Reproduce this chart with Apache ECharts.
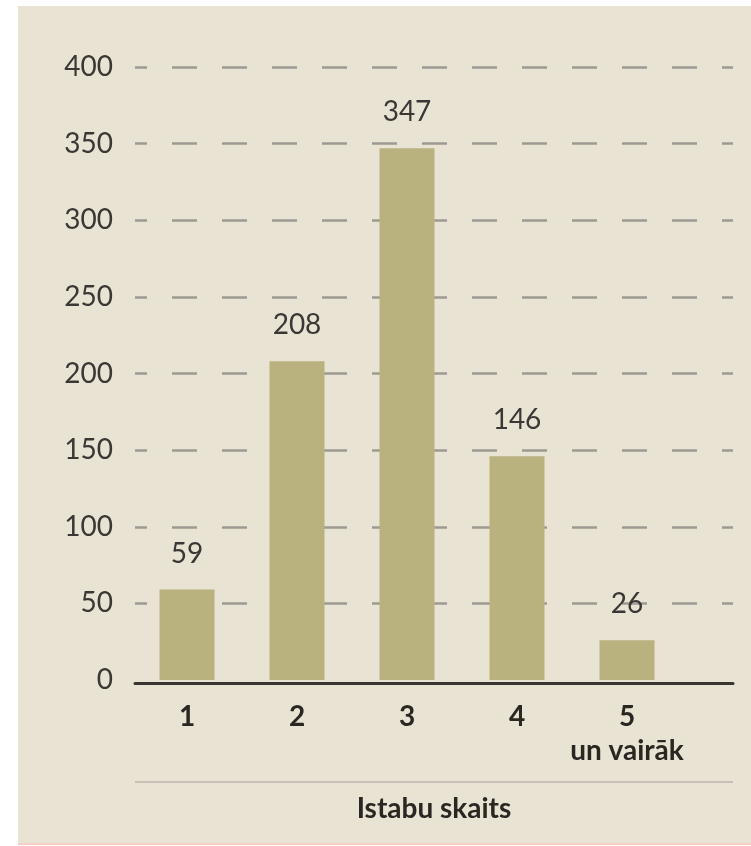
<!DOCTYPE html>
<html>
<head>
<meta charset="utf-8">
<script src="https://cdn.jsdelivr.net/npm/echarts@6/dist/echarts.min.js"></script>
<style>
html,body{margin:0;padding:0;background:#ffffff;}
#bg{position:absolute;left:18px;top:6px;width:733px;height:837px;background:#e9e3d3;border-bottom:2px solid #f3cfc4;}
#chart{position:absolute;left:0;top:0;width:751px;height:846px;}
</style>
</head>
<body>
<div id="bg"></div>
<div id="chart"></div>
<script>
const categories = ['1', '2', '3', '4', '5\nun vairāk'];
const values = [59, 208, 347, 146, 26];
const yTicks = [0, 50, 100, 150, 200, 250, 300, 350, 400];
const xTitle = 'Istabu skaits';

const FONT = 'Lato';
const chart = echarts.init(document.getElementById('chart'), null, {renderer: 'canvas'});
chart.setOption({
  animation: false,
  backgroundColor: 'transparent',
  grid: [
    {left: 135, right: 18, top: 67, bottom: 166},
    {left: 132, right: 69, top: 67, bottom: 166}
  ],
  xAxis: [
    {
      gridIndex: 0, type: 'value', min: 0, max: 1, offset: 3,
      axisLine: {show: true, onZero: false, lineStyle: {color: '#3b3531', width: 3}},
      axisTick: {show: false}, axisLabel: {show: false}, splitLine: {show: false},
      name: xTitle, nameLocation: 'middle', nameGap: 112,
      nameTextStyle: {fontFamily: FONT, fontWeight: 'bold', fontSize: 28, color: '#2b2622'}
    },
    {
      gridIndex: 1, type: 'category', data: categories,
      axisLine: {show: false}, axisTick: {show: false},
      axisLabel: {
        interval: 0, margin: 20, fontFamily: FONT, fontWeight: 'bold', fontSize: 28,
        color: '#2b2622', lineHeight: 34
      }
    }
  ],
  yAxis: [
    {
      gridIndex: 0, type: 'value', min: yTicks[0], max: yTicks[yTicks.length - 1], interval: 50,
      axisLine: {show: false}, axisTick: {show: false},
      axisLabel: {margin: 22, fontFamily: FONT, fontSize: 28, color: '#3a3735'},
      splitLine: {show: true, showMinLine: false, lineStyle: {color: '#9d9a93', width: 2.5, type: [25, 25], dashOffset: 13}}
    },
    {
      gridIndex: 1, type: 'value', min: yTicks[0], max: yTicks[yTicks.length - 1], interval: 50,
      show: false, splitLine: {show: false}
    }
  ],
  graphic: [
    {type: 'line', shape: {x1: 135, y1: 782, x2: 733, y2: 782}, style: {stroke: '#c9c0b8', lineWidth: 2}}
  ],
  series: [{
    type: 'bar', xAxisIndex: 1, yAxisIndex: 1, data: values, barWidth: 55,
    itemStyle: {color: '#b9b17e'},
    label: {show: true, position: 'top', distance: 22, fontFamily: FONT, fontSize: 28, color: '#3a3735'}
  }]
});
</script>
</body>
</html>
